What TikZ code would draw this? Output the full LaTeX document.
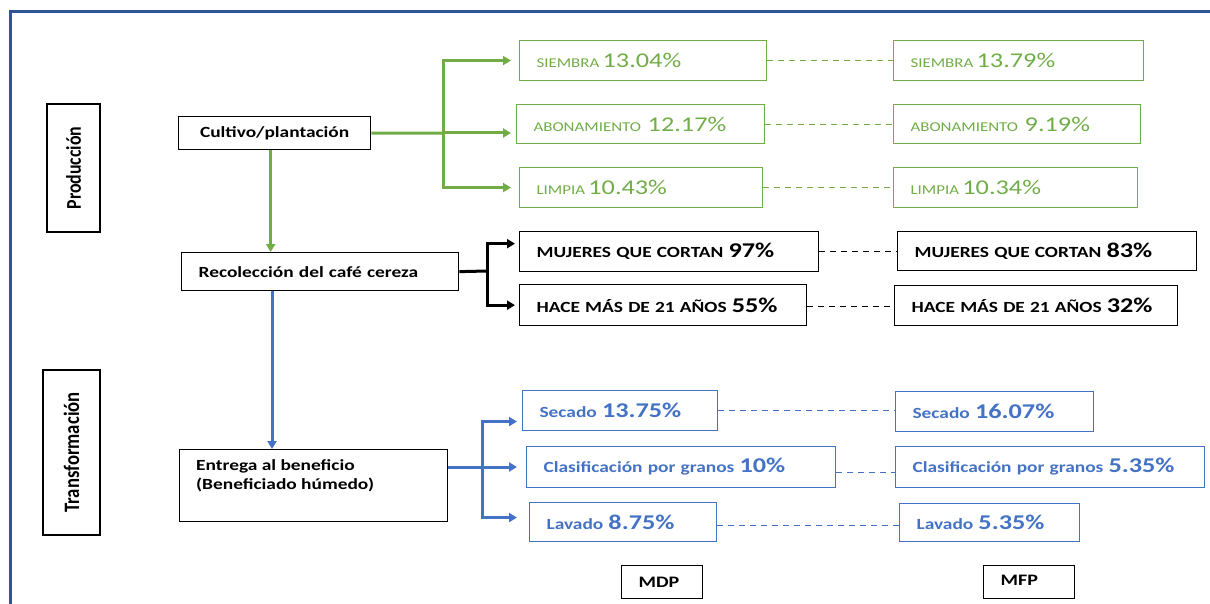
\documentclass[tikz,border=0pt]{standalone}
\usepackage{fontspec}
\setmainfont{Carlito}
\newfontfamily\wfont[FakeStretch=1.25]{Carlito}
\newfontfamily\cfont[FakeStretch=0.85]{Carlito}
\usetikzlibrary{arrows.meta}
\definecolor{gr}{HTML}{70AD47}
\definecolor{bl}{HTML}{4472C4}
\definecolor{fr}{HTML}{2F5597}
\newcommand\sm[1]{{\fontsize{13.5}{16}\selectfont #1}}
\newcommand\bg[1]{{\fontsize{21}{24}\selectfont #1}}
\tikzset{
  box/.style={draw, line width=1.3pt, anchor=north west, inner xsep=17pt, inner ysep=0pt, align=left, font=\wfont},
  gbox/.style={box, draw=gr, text=gr, line width=1.1pt},
  bbox/.style={box, draw=bl, text=bl, line width=1.1pt, font=\wfont\bfseries\fontsize{15.5}{18}\selectfont},
  kbox/.style={box, font=\wfont\bfseries\fontsize{15.5}{18}\selectfont},
  conn/.style={line width=3pt, -{Triangle[length=8pt,width=9pt]}},
  plain/.style={line width=3pt},
  dsh/.style={line width=1pt, dash pattern=on 6pt off 5pt},
}
\begin{document}
\begin{tikzpicture}[x=1pt,y=-1pt]
\useasboundingbox (0,0) rectangle (1210,604);
\draw[fr, line width=3pt] (10,606) -- (10,12) -- (1212,12);

% side labels
\node[box, rotate=90, anchor=center, minimum width=128pt, minimum height=53pt, inner xsep=0pt, font=\cfont\bfseries\fontsize{21}{24}\selectfont] (prod) at (73.5,168) {Producción};
\node[box, rotate=90, anchor=center, minimum width=165pt, minimum height=57pt, inner xsep=0pt, font=\cfont\bfseries\fontsize{22}{25}\selectfont] (trans) at (71.5,452.5) {Transformación};

% main process boxes
\node[kbox, align=center, inner xsep=0pt, minimum width=192pt, minimum height=33pt] (cult) at (178,116) {Cultivo/plantación};
\node[kbox, text width=243pt, minimum height=38pt] (rec) at (181,252) {Recolección del café cereza};
\node[kbox, minimum width=268pt, minimum height=72pt, label={[anchor=north west, align=left, inner sep=0pt, yshift=-10pt, font=\wfont\bfseries\fontsize{15.5}{20}\selectfont]north west:{\hspace*{17pt}Entrega al beneficio\\[-1pt]\hspace*{17pt}(Beneficiado húmedo)}}] (ent) at (179,449) {\vphantom{X}};

% green MDP
\node[gbox, text width=213pt, minimum height=40pt] (s1) at (519,40) {\sm{SIEMBRA} \bg{13.04\%}};
\node[gbox, text width=214pt, minimum height=39pt] (a1) at (516,104) {\sm{ABONAMIENTO}\ \ \bg{12.17\%}};
\node[gbox, text width=209pt, minimum height=40pt] (l1) at (519,167) {\sm{LIMPIA} \bg{10.43\%}};
% green MFP
\node[gbox, text width=216pt, minimum height=40pt] (s2) at (893,40) {\sm{SIEMBRA} \bg{13.79\%}};
\node[gbox, text width=213pt, minimum height=39pt] (a2) at (893,104) {\sm{ABONAMIENTO}\ \ \bg{9.19\%}};
\node[gbox, text width=210pt, minimum height=40pt] (l2) at (893,167) {\sm{LIMPIA} \bg{10.34\%}};

% black
\node[kbox, text width=265pt, minimum height=40pt] (m1) at (519,231) {MUJERES QUE CORTAN \bg{97\%}};
\node[kbox, text width=253pt, minimum height=41pt] (h1) at (519,284) {HACE MÁS DE 21 AÑOS \bg{55\%}};
\node[kbox, text width=265pt, minimum height=39pt] (m2) at (897,231) {MUJERES QUE CORTAN \bg{83\%}};
\node[kbox, text width=249pt, minimum height=40pt] (h2) at (894,285) {HACE MÁS DE 21 AÑOS \bg{32\%}};

% blue
\node[bbox, text width=161pt, minimum height=40pt] (se1) at (522,390) {Secado \bg{13.75\%}};
\node[bbox, text width=275pt, minimum height=41pt] (c1) at (526,446) {Clasificación por granos \bg{10\%}};
\node[bbox, text width=153pt, minimum height=39pt] (la1) at (529,502) {Lavado \bg{8.75\%}};
\node[bbox, text width=164pt, minimum height=40pt] (se2) at (895,391) {Secado \bg{16.07\%}};
\node[bbox, text width=275pt, minimum height=41pt] (c2) at (895,446) {Clasificación por granos \bg{5.35\%}};
\node[bbox, text width=146pt, minimum height=38pt] (la2) at (899,503) {Lavado \bg{5.35\%}};

% legend
\node[kbox, text width=47pt, minimum height=33pt, font=\wfont\bfseries\fontsize{16}{18}\selectfont] (mdp) at (621,565) {MDP};
\node[kbox, text width=57pt, minimum height=33pt, font=\wfont\bfseries\fontsize{16}{18}\selectfont] (mfp) at (983,565) {\raisebox{3pt}{MFP}};

% junctions
\coordinate (gj) at (443,133);
\coordinate (kj) at (487,271);
\coordinate (bj) at (482,467);
\coordinate (vx) at (272,0);

% green connectors
\draw[plain, gr] (cult.east) -- (gj);
\draw[conn, gr, shorten >=8pt] (gj) |- (s1.west);
\draw[conn, gr, shorten >=5pt] (gj) -- (gj -| a1.west);
\draw[conn, gr, shorten >=8pt] (gj) |- (l1.west);
\draw[conn, gr] ([xshift=-4pt]cult.south) -- ([xshift=-4pt]cult.south |- rec.north);

% black connectors
\draw[plain] (rec.east) -- (kj);
\draw[conn, shorten >=4pt] (kj) |- ([yshift=8pt]m1.west);
\draw[conn, shorten >=4pt] (kj) |- (h1.west);

% blue connectors
\draw[conn, bl] (rec.south -| vx) -- (ent.north -| vx);
\draw[plain, bl] (ent.east |- bj) -- (bj);
\draw[conn, bl, shorten >=5pt] (bj) |- ([yshift=-11pt]se1.west);
\draw[conn, bl, shorten >=9pt] (bj) -- (bj -| c1.west);
\draw[conn, bl, shorten >=12pt] (bj) |- ([yshift=4.5pt]la1.west);

% dashed comparisons
\draw[dsh, gr] (s1.east) -- (s1.east -| s2.west);
\draw[dsh, gr] (a1.east) -- (a1.east -| a2.west);
\draw[dsh, gr] (l1.east) -- (l1.east -| l2.west);
\draw[dsh] (m1.east) -- (m1.east -| m2.west);
\draw[dsh] ([yshift=-1.5pt]h1.east) -- ([yshift=-1.5pt]h1.east -| h2.west);
\draw[dsh, bl] (se1.east) -- (se1.east -| se2.west);
\draw[dsh, bl] ([yshift=-5pt]c1.east) -- ([yshift=-5pt]c1.east -| c2.west);
\draw[dsh, bl] ([yshift=-3.5pt]la1.east) -- ([yshift=-3.5pt]la1.east -| la2.west);
\end{tikzpicture}
\end{document}
